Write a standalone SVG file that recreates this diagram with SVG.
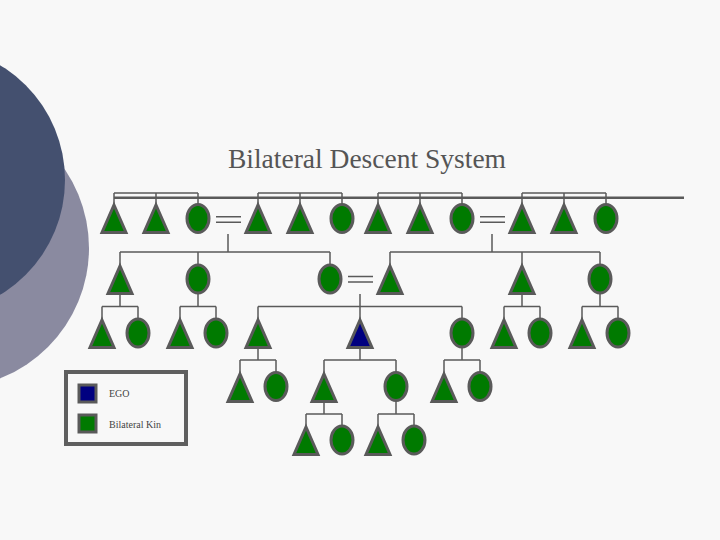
<svg xmlns="http://www.w3.org/2000/svg" width="720" height="540" viewBox="0 0 720 540">
<style>
.ln{stroke:#5a5a5a;stroke-width:1.5;fill:none}
.thick{stroke:#5a5a5a;stroke-width:2.5;fill:none}
.kin{fill:#007a00;stroke:#5a5a5a;stroke-width:3}
.ego{fill:#000080;stroke:#5a5a5a;stroke-width:3}
.title{font-family:"Liberation Serif","Times New Roman",serif;font-size:27.5px;fill:#555}
.leg{font-family:"Liberation Serif","Times New Roman",serif;font-size:10px;fill:#444}
</style>
<defs>
<path id="tri" d="M0,-14 L12,13.5 L-12,13.5 Z"/>
</defs>
<rect width="720" height="540" fill="#f8f8f8"/>
<circle cx="-51" cy="248" r="140" fill="#8a8aa0"/>
<circle cx="-69" cy="180" r="134" fill="#44506f"/>
<text class="title" x="367" y="168" text-anchor="middle">Bilateral Descent System</text>

<g id="connectors">
<path class="thick" d="M114,197.7 H684"/>
<path class="ln" d="M114,193 H198 M114,193 V210 M156,193 V210 M198,193 V210"/>
<path class="ln" d="M258,193 H342 M258,193 V210 M300,193 V210 M342,193 V210"/>
<path class="ln" d="M378,193 H462 M378,193 V210 M420,193 V210 M462,193 V210"/>
<path class="ln" d="M522,193 H606 M522,193 V210 M564,193 V210 M606,193 V210"/>
<path class="ln" d="M216,216.7 H241 M216,222.3 H241 M480,216.7 H505 M480,222.3 H505 M348,276.5 H373 M348,282 H373"/>
<path class="ln" d="M228,234 V252 M120,252 H330 M120,252 V270 M198,252 V270 M330,252 V270"/>
<path class="ln" d="M492,234 V252 M390,252 H600 M390,252 V270 M522,252 V270 M600,252 V270"/>
<path class="ln" d="M120,290 V306.5 M102,306.5 H138 M102,306.5 V325 M138,306.5 V325"/>
<path class="ln" d="M198,290 V306.5 M180,306.5 H216 M180,306.5 V325 M216,306.5 V325"/>
<path class="ln" d="M360,294 V306.5 M258,306.5 H462 M258,306.5 V325 M360,306.5 V325 M462,306.5 V325"/>
<path class="ln" d="M522,290 V306.5 M504,306.5 H540 M504,306.5 V325 M540,306.5 V325"/>
<path class="ln" d="M600,290 V306.5 M582,306.5 H618 M582,306.5 V325 M618,306.5 V325"/>
<path class="ln" d="M258,345 V360 M240,360 H276 M240,360 V378 M276,360 V378"/>
<path class="ln" d="M360,345 V360 M324,360 H396 M324,360 V378 M396,360 V378"/>
<path class="ln" d="M462,345 V360 M444,360 H480 M444,360 V378 M480,360 V378"/>
<path class="ln" d="M324,398 V414 M306,414 H342 M306,414 V430 M342,414 V430"/>
<path class="ln" d="M396,398 V414 M378,414 H414 M378,414 V430 M414,414 V430"/>
</g>

<g id="r1-m1"><use href="#tri" class="kin" x="114" y="219"/></g>
<g id="r1-m2"><use href="#tri" class="kin" x="156" y="219"/></g>
<g id="r1-f1"><ellipse class="kin" cx="198" cy="218.5" rx="11" ry="14"/></g>
<g id="r1-m3"><use href="#tri" class="kin" x="258" y="219"/></g>
<g id="r1-m4"><use href="#tri" class="kin" x="300" y="219"/></g>
<g id="r1-f2"><ellipse class="kin" cx="342" cy="218.5" rx="11" ry="14"/></g>
<g id="r1-m5"><use href="#tri" class="kin" x="378" y="219"/></g>
<g id="r1-m6"><use href="#tri" class="kin" x="420" y="219"/></g>
<g id="r1-f3"><ellipse class="kin" cx="462" cy="218.5" rx="11" ry="14"/></g>
<g id="r1-m7"><use href="#tri" class="kin" x="522" y="219"/></g>
<g id="r1-m8"><use href="#tri" class="kin" x="564" y="219"/></g>
<g id="r1-f4"><ellipse class="kin" cx="606" cy="218.5" rx="11" ry="14"/></g>

<g id="r2-m1"><use href="#tri" class="kin" x="120" y="280"/></g>
<g id="r2-f1"><ellipse class="kin" cx="198" cy="279" rx="11" ry="14"/></g>
<g id="r2-f2"><ellipse class="kin" cx="330" cy="279" rx="11" ry="14"/></g>
<g id="r2-m2"><use href="#tri" class="kin" x="390" y="280"/></g>
<g id="r2-m3"><use href="#tri" class="kin" x="522" y="280"/></g>
<g id="r2-f3"><ellipse class="kin" cx="600" cy="279" rx="11" ry="14"/></g>

<g id="r3-m1"><use href="#tri" class="kin" x="102" y="334"/></g>
<g id="r3-f1"><ellipse class="kin" cx="138" cy="333" rx="11" ry="14"/></g>
<g id="r3-m2"><use href="#tri" class="kin" x="180" y="334"/></g>
<g id="r3-f2"><ellipse class="kin" cx="216" cy="333" rx="11" ry="14"/></g>
<g id="r3-m3"><use href="#tri" class="kin" x="258" y="334"/></g>
<g id="ego"><use href="#tri" class="ego" x="360" y="334"/></g>
<g id="r3-f3"><ellipse class="kin" cx="462" cy="333" rx="11" ry="14"/></g>
<g id="r3-m4"><use href="#tri" class="kin" x="504" y="334"/></g>
<g id="r3-f4"><ellipse class="kin" cx="540" cy="333" rx="11" ry="14"/></g>
<g id="r3-m5"><use href="#tri" class="kin" x="582" y="334"/></g>
<g id="r3-f5"><ellipse class="kin" cx="618" cy="333" rx="11" ry="14"/></g>

<g id="r4-m1"><use href="#tri" class="kin" x="240" y="388"/></g>
<g id="r4-f1"><ellipse class="kin" cx="276" cy="386.5" rx="11" ry="14"/></g>
<g id="r4-m2"><use href="#tri" class="kin" x="324" y="388"/></g>
<g id="r4-f2"><ellipse class="kin" cx="396" cy="386.5" rx="11" ry="14"/></g>
<g id="r4-m3"><use href="#tri" class="kin" x="444" y="388"/></g>
<g id="r4-f3"><ellipse class="kin" cx="480" cy="386.5" rx="11" ry="14"/></g>

<g id="r5-m1"><use href="#tri" class="kin" x="306" y="441"/></g>
<g id="r5-f1"><ellipse class="kin" cx="342" cy="440" rx="11" ry="14"/></g>
<g id="r5-m2"><use href="#tri" class="kin" x="378" y="441"/></g>
<g id="r5-f2"><ellipse class="kin" cx="414" cy="440" rx="11" ry="14"/></g>

<g id="legend">
<rect x="66" y="372" width="120" height="72" fill="#f8f8f8" stroke="#5f5f5f" stroke-width="4"/>
<rect class="ego" x="79" y="385" width="17" height="17"/>
<text class="leg" x="109" y="397">EGO</text>
<rect class="kin" x="79" y="415" width="17" height="17"/>
<text class="leg" x="109" y="428">Bilateral Kin</text>
</g>
</svg>
